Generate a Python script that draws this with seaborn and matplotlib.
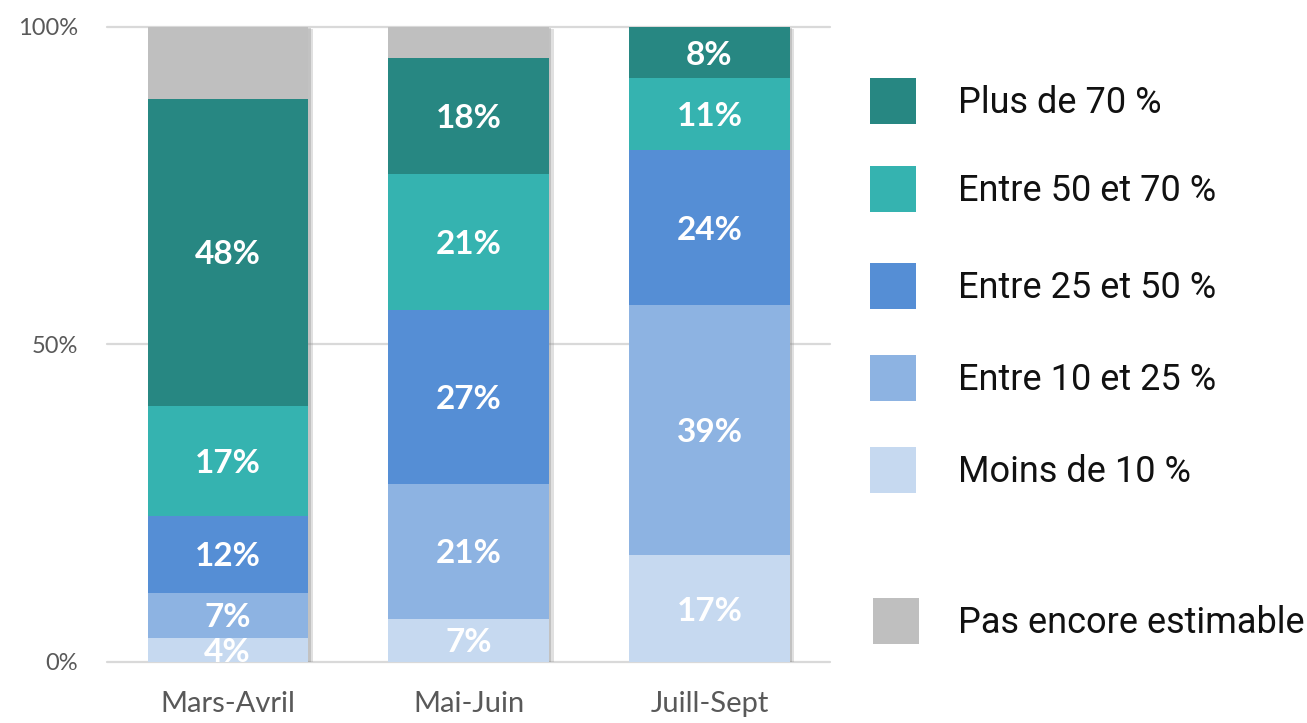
import numpy as np
import pandas as pd
import matplotlib
matplotlib.use("Agg")
import matplotlib.pyplot as plt
import matplotlib.patheffects as pe
from matplotlib.patches import Rectangle
import seaborn as sns

# ---- data ----
periods = ["Mars-Avril", "Mai-Juin", "Juill-Sept"]
categories = ["Moins de 10 %", "Entre 10 et 25 %", "Entre 25 et 50 %",
              "Entre 50 et 70 %", "Plus de 70 %", "Pas encore estimable"]
moins10 = [3.8, 6.8, 16.8]
entre10_25 = [7.1, 21.3, 39.4]
entre25_50 = [12.1, 27.4, 24.4]
entre50_70 = [17.3, 21.3, 11.3]
plus70 = [48.4, 18.3, 8.1]
pas_encore = [11.3, 4.9, 0.0]
y_ticks = [0, 50, 100]
y_tick_labels = ["0%", "50%", "100%"]

series = [moins10, entre10_25, entre25_50, entre50_70, plus70, pas_encore]
colors = ["#C6D9F0", "#8DB3E2", "#558ED5", "#35B3B0", "#278782", "#BFBFBF"]

sns.set_theme(style="white")
plt.rcParams["font.family"] = ["Lato", "DejaVu Sans"]

fig = plt.figure(figsize=(13.07, 7.23), dpi=100)
ax = fig.add_axes([0.082, 0.0844, 0.553, 0.8783])

vals = np.array(series)
cum = np.cumsum(vals, axis=0)

# draw cumulative bars from top to bottom so each layer overlays the next
for i in range(len(series) - 1, -1, -1):
    df = pd.DataFrame({"period": periods, "value": cum[i]})
    sns.barplot(data=df, x="period", y="value", color=colors[i], saturation=1,
                width=0.665, ax=ax, errorbar=None, zorder=3 + (len(series) - i) * 0.01)

# soft shadow on the full-height bars
n_full = len(periods)
for p in ax.patches[:n_full]:
    p.set_path_effects([
        pe.SimplePatchShadow(offset=(3.5, -1.2), shadow_rgbFace="#9a9a9a", alpha=0.3),
        pe.SimplePatchShadow(offset=(2.0, -0.6), shadow_rgbFace="#8a8a8a", alpha=0.35),
        pe.Normal()])
for p in ax.patches:
    p.set_linewidth(0)

# segment labels
for i in range(len(series) - 1):
    for j, period in enumerate(periods):
        v = vals[i, j]
        if v <= 0:
            continue
        ymid = cum[i, j] - v / 2
        ax.text(j, ymid, f"{v:.0f}%", ha="center", va="center_baseline",
                color="white", fontsize=24, fontweight="bold", zorder=10)

ax.set_ylim(0, 100)
ax.set_xlim(-0.5, 2.5)
ax.set_yticks(y_ticks)
ax.set_yticklabels(y_tick_labels)
ax.set_xlabel("")
ax.set_ylabel("")
ax.yaxis.grid(True, color="#D9D9D9", linewidth=1.6, zorder=0)
ax.set_axisbelow(True)
for s in ax.spines.values():
    s.set_visible(False)
ax.tick_params(axis="y", length=0, pad=21, labelsize=17, labelcolor="#595959")
ax.tick_params(axis="x", length=0, pad=21, labelsize=21, labelcolor="#595959")
for gl in ax.get_ygridlines():
    gl.set_clip_on(False)

# legend (drawn manually in figure pixel coordinates)
W, H = 1307, 723
legend_order = [4, 3, 2, 1, 0, 5]
legend_y = [101, 189, 286, 378, 470, 621]
legend_x = [870, 870, 870, 870, 870, 873]
for idx, (k, y) in enumerate(zip(legend_order, legend_y)):
    x0 = legend_x[idx]
    fig.add_artist(Rectangle((x0 / W, 1 - (y + 23) / H), 46 / W, 46 / H,
                             transform=fig.transFigure, facecolor=colors[k],
                             edgecolor="none"))
    fig.text(958 / W, 1 - (y + 2) / H, categories[k], ha="left", va="center",
             fontsize=26, color="#111111", family=["Roboto", "DejaVu Sans"])

fig.savefig("out.png", dpi=100, facecolor="white")
